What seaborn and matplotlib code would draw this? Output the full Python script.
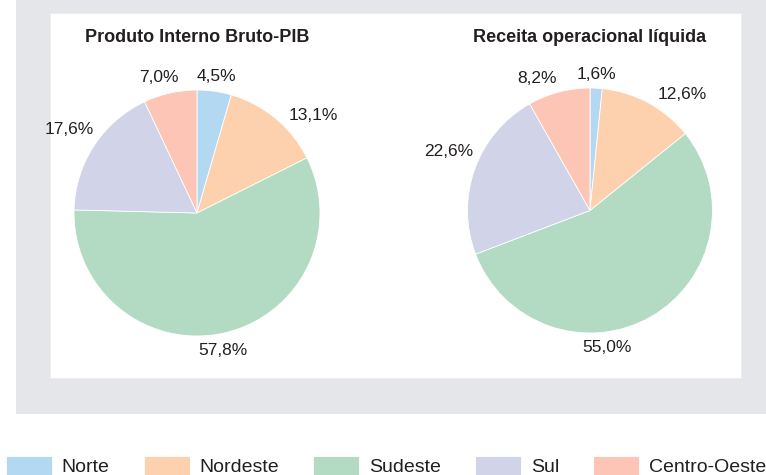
import matplotlib
matplotlib.use("Agg")
import matplotlib.pyplot as plt
import seaborn as sns
import numpy as np
from matplotlib.patches import Rectangle

# dados (%)
regioes = ["Norte", "Nordeste", "Sudeste", "Sul", "Centro-Oeste"]
pib = [4.5, 13.1, 57.8, 17.6, 7.0]
receita = [1.6, 12.6, 55.0, 22.6, 8.2]
titulos = ["Produto Interno Bruto-PIB", "Receita operacional líquida"]
cores = ["#b3d9f2", "#fdd0ae", "#b3dbc3", "#d1d3e9", "#fdc5b5"]

# ajuste fino do ângulo dos rótulos (graus, sentido horário), como no original
ajuste_rotulos = [[0, 10, 2, 0, -3], [0, 10, 23, 3, -7]]

W, H = 766, 475
COR_TEXTO = "#231f20"

sns.set_theme(style="white")
plt.rcParams["font.family"] = ["Liberation Sans", "DejaVu Sans"]

fig = plt.figure(figsize=(W / 100, H / 100), dpi=100)
fig.patch.set_facecolor("white")


def caixa(x0, y0, x1, y1):
    # coordenadas em pixels a partir do canto superior esquerdo
    return (x0 / W, 1 - y1 / H), (x1 - x0) / W, (y1 - y0) / H


# fundo cinza e painel branco
xy, w, h = caixa(16, 0, 766, 414)
fig.add_artist(Rectangle(xy, w, h, transform=fig.transFigure, facecolor="#e5e6ea",
                         edgecolor="none", zorder=-2))
xy, w, h = caixa(50, 13, 741, 378)
fig.add_artist(Rectangle(xy, w, h, transform=fig.transFigure, facecolor="white",
                         edgecolor="#eeeeee", linewidth=0.6, zorder=-1))

paleta = sns.color_palette(cores)
centros = [(197, 213, 123), (590, 210.5, 122.5)]
series = [pib, receita]
tam = 330

fig.canvas.draw()
renderer = fig.canvas.get_renderer()
handles = None

for i, (valores, (cx, cy, r_px)) in enumerate(zip(series, centros)):
    ax = fig.add_axes([(cx - tam / 2) / W, (H - cy - tam / 2) / H, tam / W, tam / H])
    ax.patch.set_alpha(0)
    wedges, _ = ax.pie(valores, colors=paleta, startangle=90, counterclock=False,
                       wedgeprops=dict(edgecolor="white", linewidth=0.6))
    lim = tam / 2 / r_px
    ax.set_xlim(-lim, lim)
    ax.set_ylim(-lim, lim)
    ax.set_aspect("equal")
    ax.set_axis_off()
    if handles is None:
        handles = wedges

    # rótulos fora da pizza, logo além da borda
    gap = 5 / r_px
    for wdg, val, nudge in zip(wedges, valores, ajuste_rotulos[i]):
        ang = np.deg2rad((wdg.theta1 + wdg.theta2) / 2 - nudge)
        t = ax.text(0, 0, f"{val:.1f}%".replace(".", ","), ha="center", va="center",
                    fontsize=12.5, color=COR_TEXTO)
        bb = t.get_window_extent(renderer)
        tw = bb.width / r_px
        th = bb.height / r_px
        dx, dy = np.cos(ang), np.sin(ang)
        d = 1 + gap + abs(dx) * tw / 2 + abs(dy) * th / 2
        t.set_position((d * dx, d * dy))

    fig.text(cx / W, 1 - 37 / H, titulos[i], ha="center", va="center",
             fontsize=13, fontweight="bold", color=COR_TEXTO)

fig.legend(handles=handles, labels=regioes, ncol=5, loc="center left",
           bbox_to_anchor=(6 / W, 1 - 466 / H), frameon=False, fontsize=14,
           handlelength=2.37, handleheight=1.25, handletextpad=0.5,
           columnspacing=1.75, borderpad=0, borderaxespad=0, labelcolor=COR_TEXTO)

fig.savefig("out.png", dpi=100)
